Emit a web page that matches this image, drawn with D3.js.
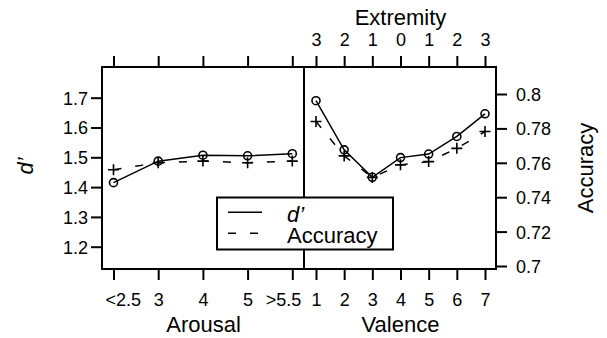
<!DOCTYPE html>
<html>
<head>
<meta charset="utf-8">
<script src="https://cdn.jsdelivr.net/npm/d3@7"></script>
<style>
  body { margin: 0; background: #fff; }
  svg { display: block; font-family: "Liberation Sans", Arial, sans-serif; }
</style>
</head>
<body>
<div id="chart"></div>
<script>
// categories
const arousal = ["<2.5", "3", "4", "5", ">5.5"];
const valence = ["1", "2", "3", "4", "5", "6", "7"];
const extremity = ["3", "2", "1", "0", "1", "2", "3"];

// series values
const dArousal = [1.415, 1.487, 1.507, 1.505, 1.512];
const accArousal = [0.756, 0.760, 0.761, 0.760, 0.761];
const dValence = [1.690, 1.525, 1.433, 1.499, 1.511, 1.570, 1.646];
const accValence = [0.784, 0.764, 0.7515, 0.7588, 0.7607, 0.7684, 0.7782];

// tick labels
const dTicks = [1.2, 1.3, 1.4, 1.5, 1.6, 1.7];
const accTicks = [0.7, 0.72, 0.74, 0.76, 0.78, 0.8];

const legendItems = [
    {label: "d\u2019", dash: null, italic: true},
    {label: "Accuracy", dash: "8,14", italic: false}
];

const W = 607, H = 338;
const box = {left: 102, right: 496, top: 67, bottom: 269, split: 304};
const tickLen = 11;

const svg = d3.select("#chart").append("svg")
    .attr("width", W)
    .attr("height", H);

// scales
const xA = d3.scalePoint().domain(arousal).range([113.5, 292.3]);
const xV = d3.scalePoint().domain(valence).range([316, 485]);
const yD = d3.scaleLinear().domain([1.2, 1.7]).range([246.7, 97.7]);
const yAcc = d3.scaleLinear().domain([0.7, 0.8]).range([266, 94]);

// axes
function styleAxis(g) {
    g.select(".domain").remove();
    g.selectAll(".tick line").attr("stroke", "#000").attr("stroke-width", 2);
    g.selectAll(".tick text").attr("fill", "#000").attr("font-size", 18);
}

svg.append("g")
    .attr("transform", `translate(${box.left},0)`)
    .call(d3.axisLeft(yD).tickValues(dTicks).tickSize(tickLen).tickPadding(3).tickFormat(d3.format(".1f")))
    .call(styleAxis)
    .selectAll(".tick text").attr("dy", "0.36em");

svg.append("g")
    .attr("transform", `translate(${box.right},0)`)
    .call(d3.axisRight(yAcc).tickValues(accTicks).tickSize(tickLen).tickPadding(9).tickFormat(d => d3.format("")(+d.toFixed(2))))
    .call(styleAxis)
    .selectAll(".tick text").attr("dy", "0.36em");

// arousal labels: the end ones are pulled inward as in the reference
svg.append("g")
    .attr("transform", `translate(0,${box.bottom})`)
    .call(d3.axisBottom(xA).tickSize(tickLen))
    .call(styleAxis)
    .selectAll(".tick text")
    .attr("y", 37).attr("dy", 0)
    .attr("text-anchor", (d, i) => i === 0 ? "start" : i === arousal.length - 1 ? "end" : "middle")
    .attr("x", (d, i) => i === 0 ? -8.5 : i === arousal.length - 1 ? 8.5 : 0);

svg.append("g")
    .attr("transform", `translate(0,${box.bottom})`)
    .call(d3.axisBottom(xV).tickSize(tickLen))
    .call(styleAxis)
    .selectAll(".tick text").attr("y", 37).attr("dy", 0);

svg.append("g")
    .attr("transform", `translate(0,${box.top})`)
    .call(d3.axisTop(xA).tickSize(tickLen).tickFormat(""))
    .call(styleAxis);

svg.append("g")
    .attr("transform", `translate(0,${box.top})`)
    .call(d3.axisTop(xV).tickSize(tickLen).tickFormat((d, i) => extremity[i]))
    .call(styleAxis)
    .selectAll(".tick text").attr("y", -21).attr("dy", 0);

// axis titles
svg.append("text").attr("x", 203.5).attr("y", 332).attr("text-anchor", "middle")
    .attr("font-size", 22).text("Arousal");
svg.append("text").attr("x", 400.5).attr("y", 332).attr("text-anchor", "middle")
    .attr("font-size", 22).text("Valence");
svg.append("text").attr("x", 400.5).attr("y", 25).attr("text-anchor", "middle")
    .attr("font-size", 22).text("Extremity");
svg.append("text").attr("transform", "translate(33,166) rotate(-90)").attr("text-anchor", "middle")
    .attr("font-size", 22).attr("font-style", "italic").text("d\u2019");
svg.append("text").attr("transform", "translate(593,168) rotate(-90)").attr("text-anchor", "middle")
    .attr("font-size", 22).text("Accuracy");

// frame
svg.append("rect")
    .attr("x", box.left).attr("y", box.top)
    .attr("width", box.right - box.left).attr("height", box.bottom - box.top)
    .attr("fill", "none").attr("stroke", "#000").attr("stroke-width", 2);
svg.append("line")
    .attr("x1", box.split).attr("x2", box.split)
    .attr("y1", box.top).attr("y2", box.bottom)
    .attr("stroke", "#000").attr("stroke-width", 2);

// series
const panels = [
    {x: xA, cats: arousal, d: dArousal, acc: accArousal},
    {x: xV, cats: valence, d: dValence, acc: accValence}
];

const plot = svg.append("g");

panels.forEach(p => {
    const dPts = p.cats.map((c, i) => [p.x(c), yD(p.d[i])]);
    const aPts = p.cats.map((c, i) => [p.x(c), yAcc(p.acc[i])]);

    plot.append("path")
        .attr("d", d3.line()(aPts))
        .attr("fill", "none").attr("stroke", "#000").attr("stroke-width", 1.5)
        .attr("stroke-dasharray", "8,14");

    plot.append("path")
        .attr("d", d3.line()(dPts))
        .attr("fill", "none").attr("stroke", "#000").attr("stroke-width", 1.5);

    plot.append("g").selectAll("path")
        .data(aPts)
        .join("path")
        .attr("d", d => `M${d[0] - 5.5},${d[1]}H${d[0] + 5.5}M${d[0]},${d[1] - 5.5}V${d[1] + 5.5}`)
        .attr("stroke", "#000").attr("stroke-width", 1.6);

    plot.append("g").selectAll("circle")
        .data(dPts)
        .join("circle")
        .attr("cx", d => d[0]).attr("cy", d => d[1]).attr("r", 4)
        .attr("fill", "none").attr("stroke", "#000").attr("stroke-width", 1.6);
});

// legend
const legend = svg.append("g");
legend.append("rect")
    .attr("x", 217).attr("y", 197.5).attr("width", 176).attr("height", 52)
    .attr("fill", "#fff").attr("stroke", "#000").attr("stroke-width", 2);

const li = legend.selectAll("g.item")
    .data(legendItems)
    .join("g")
    .attr("class", "item")
    .attr("transform", (d, i) => `translate(0,${i * 21})`);
li.append("line")
    .attr("x1", 228).attr("x2", 262).attr("y1", 212.3).attr("y2", 212.3)
    .attr("stroke", "#000").attr("stroke-width", 1.5)
    .attr("stroke-dasharray", d => d.dash);
li.append("text")
    .attr("x", 287).attr("y", 222)
    .attr("font-size", 22)
    .attr("font-style", d => d.italic ? "italic" : "normal")
    .text(d => d.label);
</script>
</body>
</html>
